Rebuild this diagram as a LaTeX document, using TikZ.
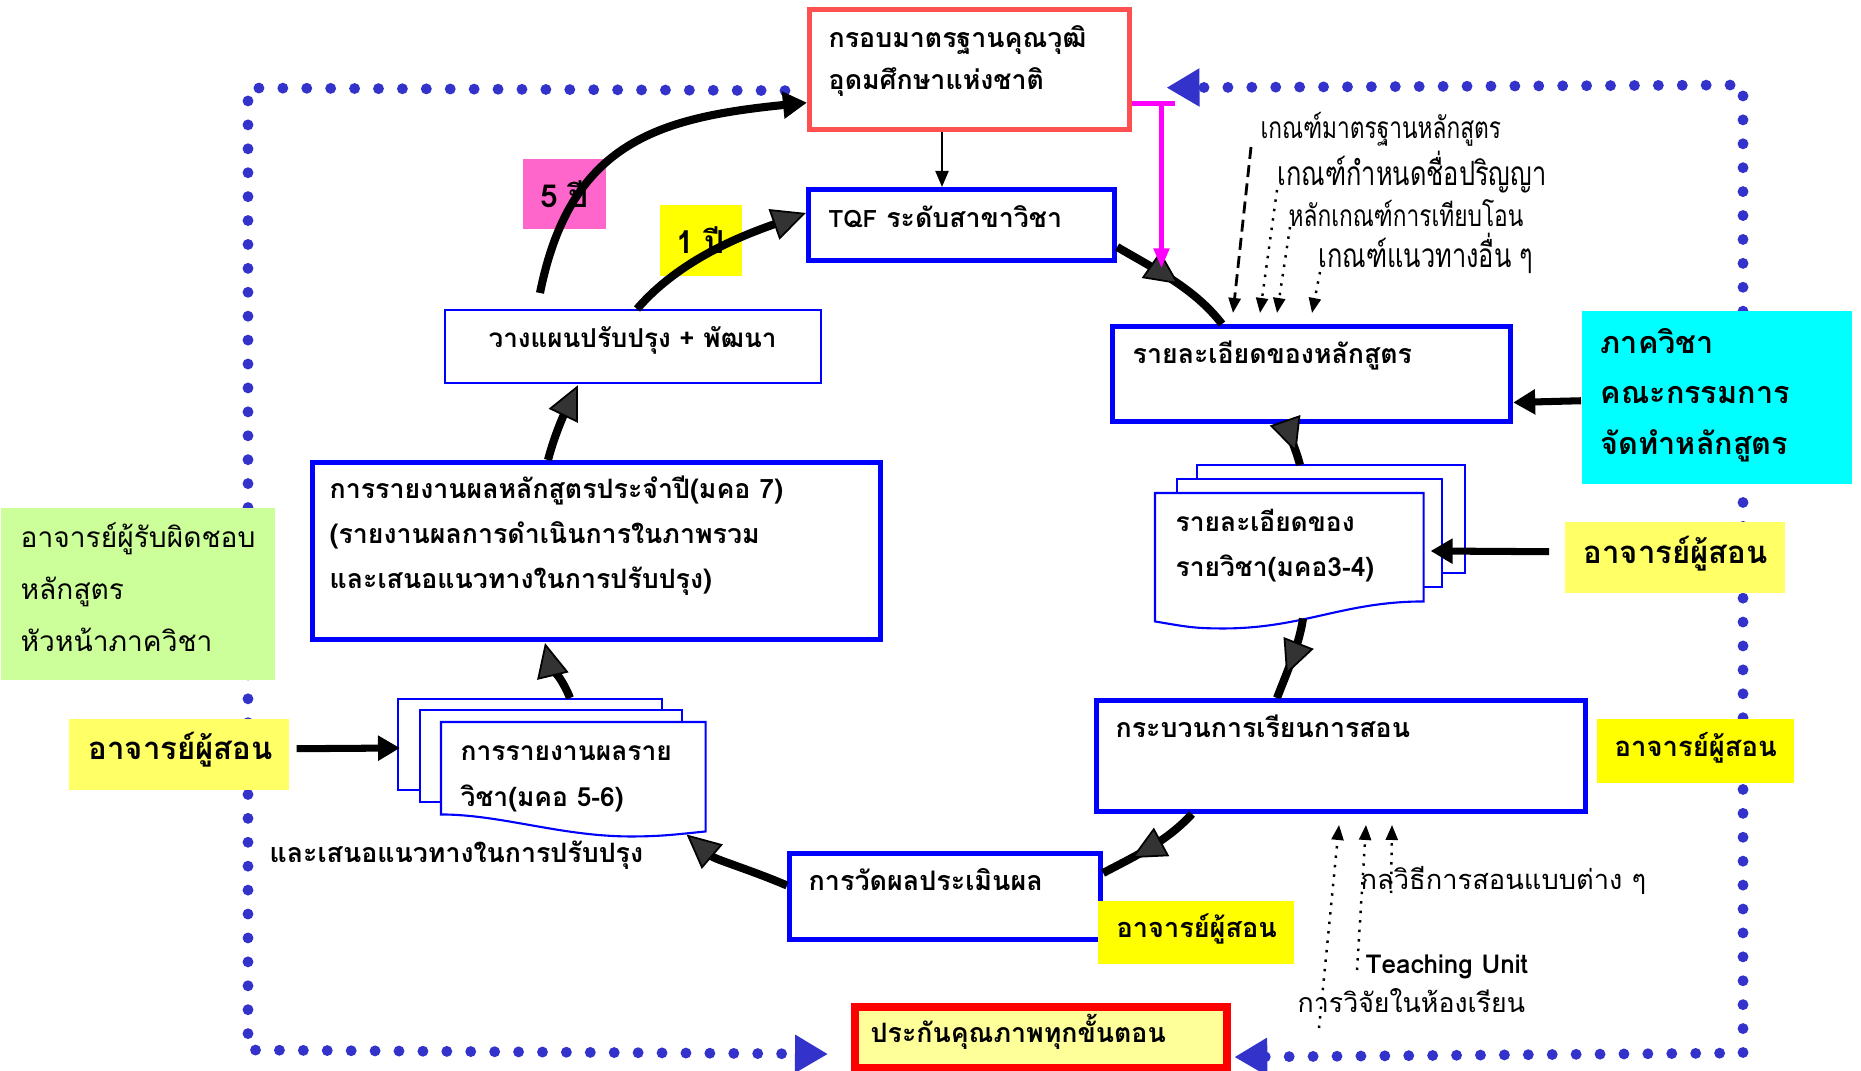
\documentclass[tikz,border=0pt]{standalone}
\usepackage{fontspec}
\setmainfont{Loma}[Script=Thai]
\newfontfamily\narrowthai{Loma}[Script=Thai, FakeStretch=0.76]
\usetikzlibrary{arrows.meta,calc,decorations.markings,positioning}

\definecolor{dotblue}{HTML}{3333CC}
\definecolor{boxblue}{HTML}{0000FF}
\definecolor{tqfred}{HTML}{FF5050}
\definecolor{qared}{HTML}{FF0000}
\definecolor{qafill}{HTML}{FFFF99}
\definecolor{tipgrey}{HTML}{333333}
\definecolor{softyellow}{HTML}{FFFF66}
\definecolor{fullyellow}{HTML}{FFFF00}
\definecolor{respgreen}{HTML}{CCFF99}
\definecolor{deptcyan}{HTML}{00FFFF}
\definecolor{yearpink}{HTML}{FF66CC}
\definecolor{linkmagenta}{HTML}{FF00FF}

\tikzset{
  cyctip/.tip={Triangle[length=0.34cm,width=0.32cm,fill=tipgrey,line width=0.5pt]},
  smalltip/.tip={Triangle[length=0.15cm,width=0.12cm]},
  dottip/.tip={Triangle[length=0.33cm,width=0.36cm]},
  bluebox/.style={draw=boxblue, line width=1.4pt, fill=white, anchor=north west, inner sep=0pt},
  thinbox/.style={bluebox, line width=0.6pt},
  fillbox/.style={anchor=north west, inner sep=0pt},
  sheet/.style={draw=boxblue, line width=0.6pt, fill=white},
  thb/.style={font=\bfseries\fontsize{7.6}{12.8}\selectfont, anchor=base west, inner sep=0pt, align=left},
  thr/.style={font=\fontsize{7.7}{12.8}\selectfont, anchor=base west, inner sep=0pt, align=left},
  crit/.style={font=\narrowthai\fontsize{8.5}{10}\selectfont, anchor=base west, inner sep=0pt},
  cyc/.style={line width=2.3pt},
  midtip/.style={postaction={decorate}, decoration={markings, mark=at position #1 with {\arrow{cyctip}}}},
  dotframe/.style={dotblue, line width=3.1pt, line cap=round, dash pattern=on 0pt off 6.8pt},
  feed/.style={line width=2pt, -{Triangle[length=0.22cm,width=0.24cm]}},
  hint/.style={line width=0.7pt, dotted, -{smalltip}},
}

\begin{document}
\begin{tikzpicture}[x=0.01cm, y=-0.01cm]
  \useasboundingbox (0,0) rectangle (1861,1071);
  % main boxes
  \node[bluebox, draw=tqfred, line width=1.5pt, minimum width=3.20cm, minimum height=1.20cm] (grp) at (807,7) {};
  \node[bluebox, minimum width=3.06cm, minimum height=0.71cm] (tqf) at (806,187) {};
  \node[thinbox, minimum width=3.76cm, minimum height=0.73cm] (plan) at (444,309) {};
  \node[bluebox, minimum width=5.68cm, minimum height=1.77cm] (annual) at (310,460) {};
  \node[bluebox, minimum width=3.11cm, minimum height=0.86cm] (eval) at (787,851) {};
  \node[bluebox, minimum width=4.89cm, minimum height=1.11cm] (teach) at (1094,698) {};
  \node[bluebox, minimum width=3.98cm, minimum height=0.95cm] (cdet) at (1110,324) {};
  \node[bluebox, draw=qared, fill=qafill, line width=2.3pt, minimum width=3.72cm, minimum height=0.61cm] (qa) at (851,1003) {};
  % dotted frame
  \draw[dotframe, -{dottip}] ($(grp.west)+(-22,21)$) -- (248,88) -- (248,1050) -- ($(qa.west)+(-23,16.5)$);
  \draw[dotframe, {dottip}-{dottip}] ($(qa.east)+(3,19.5)$) -- (1743,1053) -- (1743,85) -- ($(grp.east)+(34,18)$);
  % coloured label boxes
  \node[fillbox, fill=respgreen, minimum width=2.74cm, minimum height=1.72cm] (resp) at (0,507) {};
  \node[fillbox, fill=softyellow, minimum width=2.20cm, minimum height=0.71cm] (tchL) at (68,718) {};
  \node[fillbox, fill=fullyellow, minimum width=1.96cm, minimum height=0.63cm] (tchB) at (1097,900) {};
  \node[fillbox, fill=fullyellow, minimum width=1.97cm, minimum height=0.64cm] (tchR) at (1596,718) {};
  \node[fillbox, fill=softyellow, minimum width=2.20cm, minimum height=0.71cm] (tchM) at (1564,521) {};
  \node[fillbox, fill=deptcyan, minimum width=2.70cm, minimum height=1.73cm] (dept) at (1581,310) {};
  \node[fillbox, fill=yearpink, minimum width=0.83cm, minimum height=0.70cm] (five) at (522,158) {};
  \node[fillbox, fill=fullyellow, minimum width=0.82cm, minimum height=0.71cm] (one) at (659,204) {};
  % stacked documents
  \foreach \x/\y/\w/\h in {398/699/264/91, 420/710/262/92, 1197/465/268/108, 1177/479/265/108}
  {
    \draw[sheet] (\x,\y) rectangle ++(\w,\h);
  }
  \node[fillbox, minimum width=2.63cm, minimum height=1.08cm] (docL) at (441,722) {};
  \draw[sheet] (docL.north west) -- (docL.north east) -- (docL.south east)
    .. controls +(-30,3) and +(30,0) .. ($(docL.south west)+(190,5)$)
    .. controls +(-70,0) and +(60,0) .. ($(docL.south west)+(0,-17)$) -- cycle;
  \node[fillbox, minimum width=2.67cm, minimum height=1.07cm] (docR) at (1155,493) {};
  \draw[sheet] (docR.north west) -- (docR.north east) -- (docR.south east)
    .. controls +(-80,0) and +(80,0) .. ($(docR.south west)+(68,27)$)
    .. controls +(-30,0) and +(30,5) .. ($(docR.south west)+(0,20)$) -- cycle;
  % cycle of the curriculum
  \draw[cyc, midtip=0.55] ($(tqf.south east)+(0,-16)$) .. controls +(39,23) and +(-28,-36) .. ($(cdet.north west)+(112,0)$);
  \draw[cyc, midtip=0.7] ($(cdet.south west)+(175,0)$) .. controls +(6,15) and +(-4,-15) .. ($(docR.north west)+(145,-28)$);
  \draw[cyc, midtip=0.7] ($(docR.south west)+(148,17)$) .. controls +(-4,27) and +(10,-26) .. ($(teach.north west)+(183,0)$);
  \draw[cyc, midtip=0.7] ($(teach.south west)+(98,0)$) .. controls +(-26,28) and +(34,-18) .. ($(eval.north east)+(0,22)$);
  \draw[cyc, -{cyctip}] ($(eval.west)+(0,-11)$) .. controls +(-35,-15) and +(29,25) .. ($(docL.south east)+(-19,3)$);
  \draw[cyc, -{cyctip}] ($(docL.north west)+(129,-24)$) .. controls +(-8,-20) and +(5,21) .. ($(annual.south west)+(235,1)$);
  \draw[cyc, -{cyctip}] ($(annual.north west)+(238,0)$) .. controls +(7,-27) and +(-12,25) .. ($(plan.south west)+(134,1)$);
  \draw[cyc, -{cyctip}] ($(plan.north west)+(193,0)$) .. controls +(43,-50) and +(-62,22) .. ($(tqf.west)+(0,-12)$);
  \draw[cyc, -{Triangle[length=0.24cm,width=0.26cm]}] ($(plan.north west)+(96,-16)$) .. controls +(30,-150) and +(-150,15) .. ($(grp.west)+(0,33)$);
  % framework to programme
  \draw[line width=0.6pt, -{Triangle[length=0.16cm,width=0.13cm]}] ($(grp.south west)+(135,0)$) -- ($(tqf.north west)+(136,0)$);
  \draw[linkmagenta, line width=1.4pt] ($(grp.south east)+(0,-29)$) -- ++(43,0);
  \draw[linkmagenta, line width=1.4pt, -{Triangle[length=0.2cm,width=0.15cm]}] ($(grp.south east)+(29,-29)$) -- ++(0,165);
  % inputs
  \draw[feed] ($(tchL.east)+(7,-5.5)$) -- ($(docL.north west)+(-41,26)$);
  \draw[feed] ($(dept.west)+(0,3.5)$) -- ($(cdet.east)+(0,28.5)$);
  \draw[feed] ($(tchM.west)+(-15,-5.5)$) -- ($(docR.north east)+(7,58)$);
  % texts
  \node[thb, font=\bfseries\fontsize{7.6}{12.2}\selectfont] (grptext) at (828,90) {กรอบมาตรฐานคุณวุฒิ\\อุดมศึกษาแห่งชาติ};
  \node[thb] (tqftext) at (828,228) {{\fontsize{6.8}{10}\selectfont TQF} ระดับสาขาวิชา};
  \node[thb, font=\bfseries\fontsize{7.4}{12}\selectfont] (plantext) at (488,348) {วางแผนปรับปรุง + พัฒนา};
  \node[thb] (annualtext) at (329,589) {การรายงานผลหลักสูตรประจำปี(มคอ 7)\\(รายงานผลการดำเนินการในภาพรวม\\และเสนอแนวทางในการปรับปรุง)};
  \node[thr, font=\fontsize{8}{14.8}\selectfont] (resptext) at (20,652) {อาจารย์ผู้รับผิดชอบ\\หลักสูตร\\หัวหน้าภาควิชา};
  \node[thb, font=\bfseries\fontsize{8.85}{12}\selectfont] (tchLtext) at (88,760) {อาจารย์ผู้สอน};
  \node[thb, font=\bfseries\fontsize{7.5}{13.1}\selectfont] (docLtext) at (460,807) {การรายงานผลราย\\วิชา(มคอ 5-6)};
  \node[thb] (sugg) at (269,863) {และเสนอแนวทางในการปรับปรุง};
  \node[thb, font=\bfseries\fontsize{7.65}{12}\selectfont] (evaltext) at (808,891) {การวัดผลประเมินผล};
  \node[thb, font=\bfseries\fontsize{7.7}{12}\selectfont] (tchBtext) at (1116,938) {อาจารย์ผู้สอน};
  \node[thb] (qatext) at (870,1043) {ประกันคุณภาพทุกขั้นตอน};
  \node[thb] (teachtext) at (1115,738) {กระบวนการเรียนการสอน};
  \node[thb, font=\bfseries\fontsize{7.8}{12}\selectfont] (tchRtext) at (1614,757) {อาจารย์ผู้สอน};
  \node[thb] (cdettext) at (1132,364) {รายละเอียดของหลักสูตร};
  \node[thb, font=\bfseries\fontsize{8.7}{14.5}\selectfont] (depttext) at (1600,455) {ภาควิชา\\คณะกรรมการ\\จัดทำหลักสูตร};
  \node[thb, font=\bfseries\fontsize{8.85}{12}\selectfont] (tchMtext) at (1583,564) {อาจารย์ผู้สอน};
  \node[thb, font=\bfseries\fontsize{7.5}{12.8}\selectfont] (docRtext) at (1175,577) {รายละเอียดของ\\รายวิชา(มคอ3-4)};
  \node[thb, anchor=center, font=\bfseries\fontsize{9}{11}\selectfont] (fivetext) at (five.center) {5 ปี};
  \node[thb, anchor=center, font=\bfseries\fontsize{9}{11}\selectfont] (onetext) at (one.center) {1 ปี};
  % criteria
  \node[crit] (lab1) at (1260,139) {เกณฑ์มาตรฐานหลักสูตร};
  \node[crit, font=\narrowthai\fontsize{9.5}{11}\selectfont] (lab2) at (1277,186) {เกณฑ์กำหนดชื่อปริญญา};
  \node[crit] (lab3) at (1288,227) {หลักเกณฑ์การเทียบโอน};
  \node[crit, font=\narrowthai\fontsize{9.5}{11}\selectfont] (lab4) at (1318,268) {เกณฑ์แนวทางอื่น ๆ};
  \draw[line width=0.8pt, dash pattern=on 3.4pt off 1.8pt, -{smalltip}] ($(lab1.base west)+(-9,8)$) -- ($(cdet.north west)+(123,-11)$);
  \draw[hint] ($(lab2.base west)+(0,4)$) -- ($(cdet.north west)+(150,-11)$);
  \draw[hint] ($(lab3.base west)+(2,0)$) -- ($(cdet.north west)+(167,-11)$);
  \draw[hint] ($(lab4.base west)+(2,4)$) -- ($(cdet.north west)+(202,-11)$);
  % teaching tools
  \node[thr, font=\fontsize{7.75}{11}\selectfont] (methods) at (1360,890) {กลวิธีการสอนแบบต่าง ๆ};
  \node[thb, font=\bfseries\fontsize{7.4}{11}\selectfont] (unit) at (1365,974) {Teaching Unit};
  \node[thr, font=\fontsize{7.6}{11}\selectfont] (research) at (1297,1012) {การวิจัยในห้องเรียน};
  \draw[hint] ($(methods.base west)+(31,3)$) -- ($(teach.south west)+(298,11)$);
  \draw[hint] ($(unit.base west)+(-8,-4)$) -- ($(teach.south west)+(272,11)$);
  \draw[hint] ($(research.base west)+(22,16)$) -- ($(teach.south west)+(245,11)$);
\end{tikzpicture}
\end{document}
